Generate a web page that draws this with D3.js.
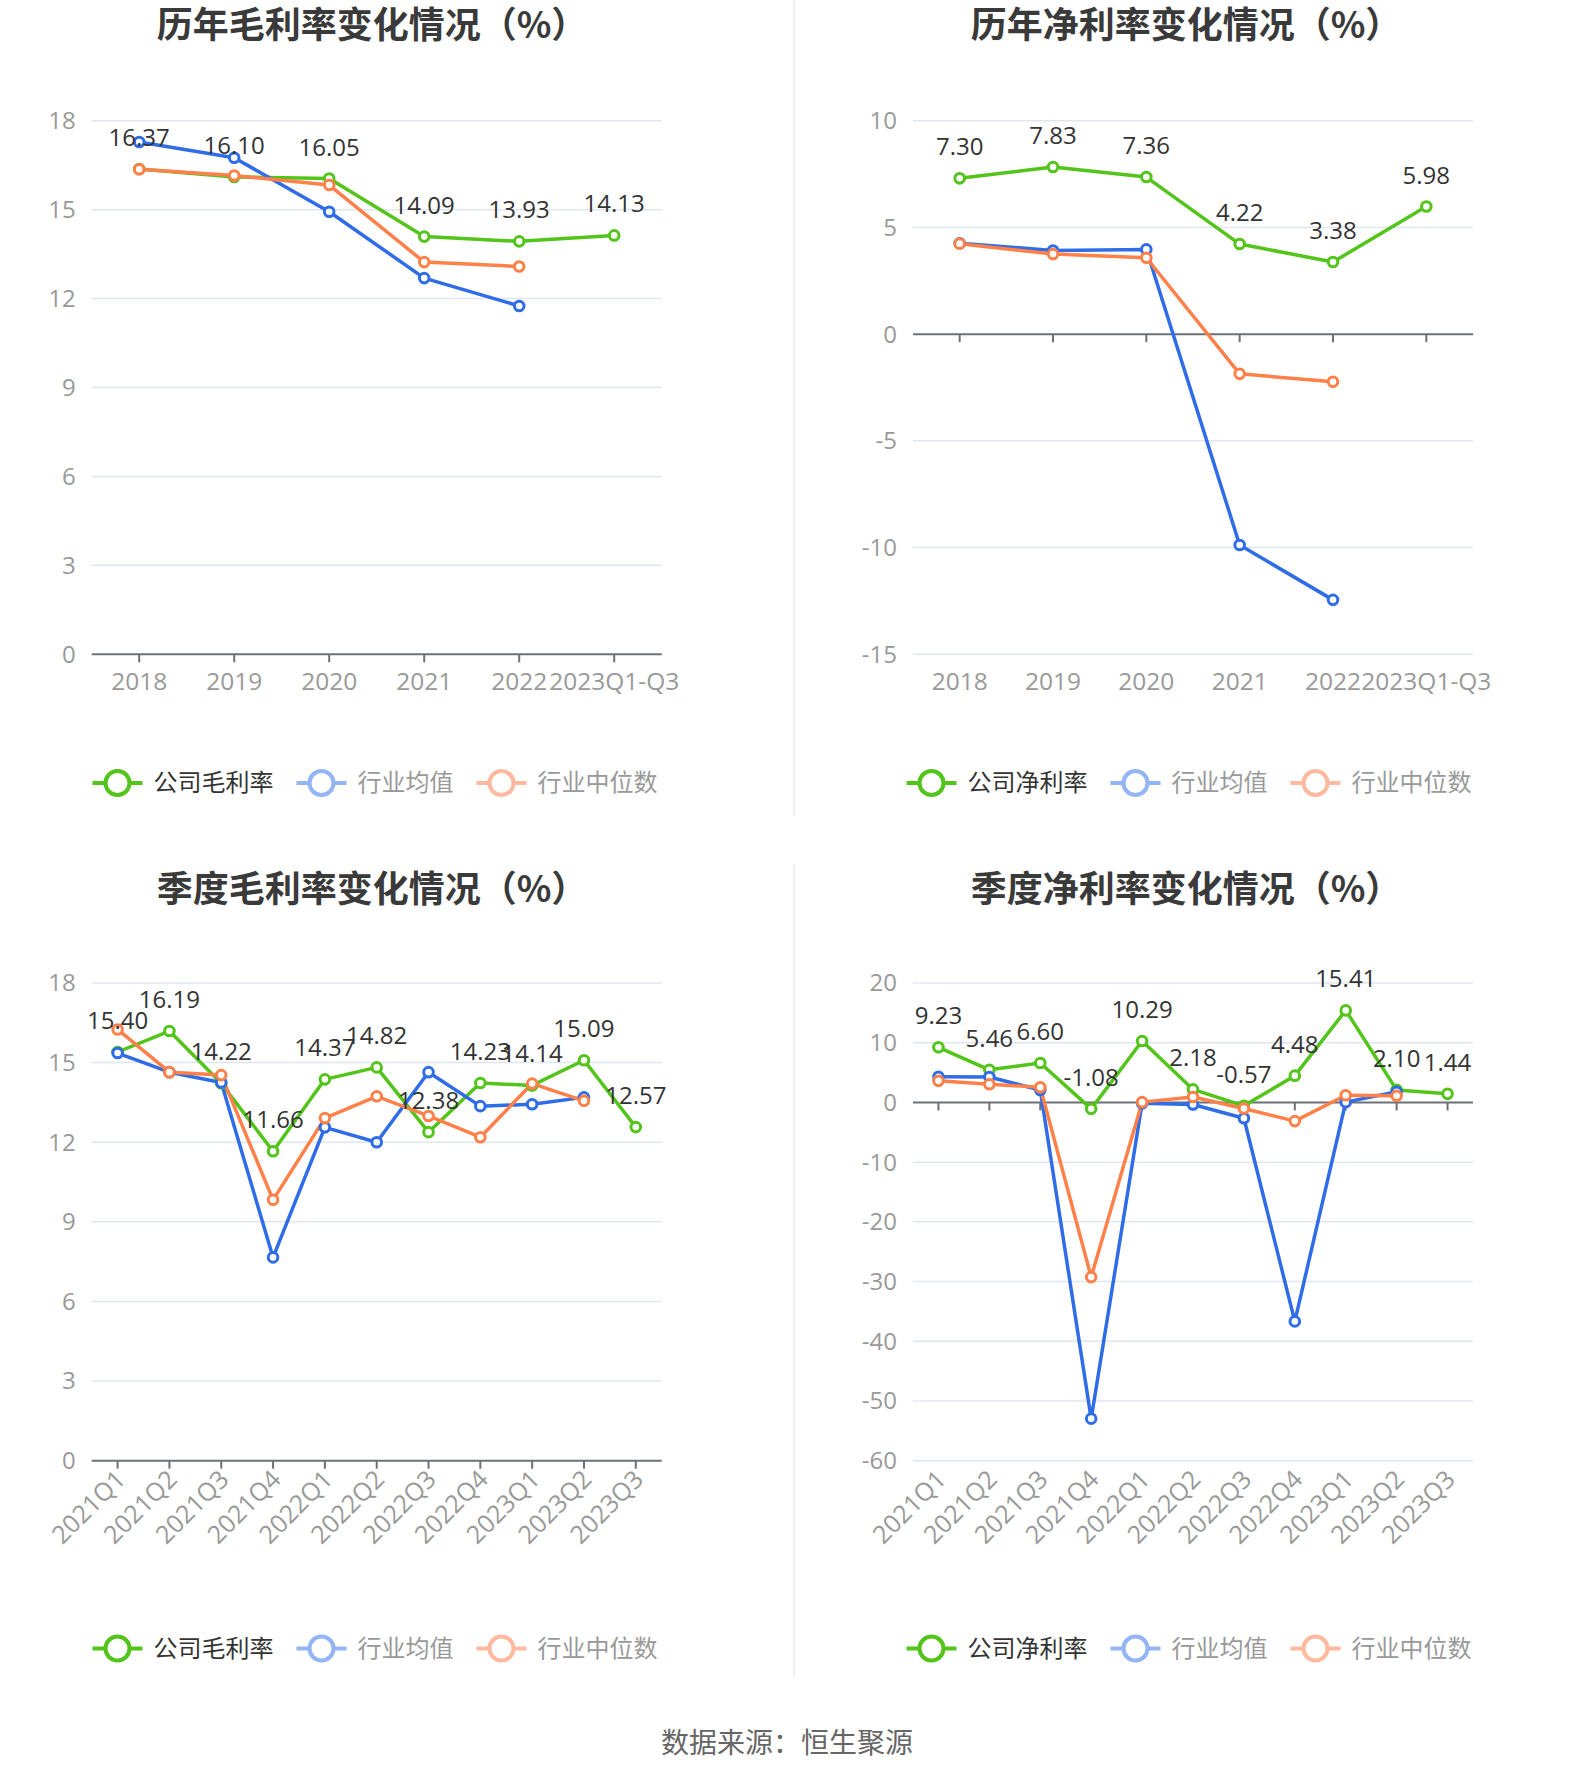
<!DOCTYPE html>
<html><head><meta charset="utf-8">
<script src="https://cdn.jsdelivr.net/npm/d3@7/dist/d3.min.js"></script>
<style>
html,body{margin:0;padding:0;background:#fff;}
svg{display:block;}
</style></head>
<body>
<svg id="c" width="1574" height="1782"></svg>
<script>
// ---------- data ----------
const yearCats = ["2018","2019","2020","2021","2022","2023Q1-Q3"];
const quarterCats = ["2021Q1","2021Q2","2021Q3","2021Q4","2022Q1","2022Q2","2022Q3","2022Q4","2023Q1","2023Q2","2023Q3"];

const yearGross = [16.37,16.10,16.05,14.09,13.93,14.13];
const yearGrossAvg = [17.28,16.75,14.93,12.69,11.75];
const yearGrossMed = [16.36,16.15,15.83,13.23,13.08];

const yearNet = [7.30,7.83,7.36,4.22,3.38,5.98];
const yearNetAvg = [4.26,3.92,3.97,-9.88,-12.45];
const yearNetMed = [4.24,3.75,3.58,-1.86,-2.23];

const qGross = [15.40,16.19,14.22,11.66,14.37,14.82,12.38,14.23,14.14,15.09,12.57];
const qGrossAvg = [15.36,14.64,14.25,7.66,12.56,12.00,14.64,13.36,13.43,13.69];
const qGrossMed = [16.25,14.64,14.53,9.83,12.91,13.73,12.99,12.19,14.21,13.56];

const qNet = [9.23,5.46,6.60,-1.08,10.29,2.18,-0.57,4.48,15.41,2.10,1.44];
const qNetAvg = [4.29,4.25,2.07,-52.96,-0.14,-0.34,-2.65,-36.67,0.05,1.78];
const qNetMed = [3.61,3.04,2.55,-29.25,0.05,0.92,-1.01,-3.13,1.20,1.10];

const grossTicks = [0,3,6,9,12,15,18];
const yearNetTicks = [-15,-10,-5,0,5,10];
const qNetTicks = [-60,-50,-40,-30,-20,-10,0,10,20];

const titles = ["历年毛利率变化情况（%）","历年净利率变化情况（%）","季度毛利率变化情况（%）","季度净利率变化情况（%）"];
const legendGross = ["公司毛利率","行业均值","行业中位数"];
const legendNet = ["公司净利率","行业均值","行业中位数"];
const sourceText = "数据来源：恒生聚源";

// ---------- style ----------
const GREEN = "#52c41a", BLUE = "#2f6ce8", ORANGE = "#ff8049";
const LEG_COLORS = ["#52c41a","#93b4f5","#ffb99f"];
const LEG_TEXT = ["#333","#999","#999"];
const NUMFONT = "'Open Sans','Noto Sans CJK SC',sans-serif";
const CJK = "'Noto Sans CJK SC','Open Sans',sans-serif";

const svg = d3.select("#c");

// dividers
svg.append("line").attr("x1",794).attr("x2",794).attr("y1",0).attr("y2",816).attr("stroke","#eeeeee").attr("stroke-width",2);
svg.append("line").attr("x1",794).attr("x2",794).attr("y1",864).attr("y2",1677).attr("stroke","#eeeeee").attr("stroke-width",2);

const panels = [
  {x0:91.7,x1:661.7,y0:120.7,y1:654.3,cx:372,titleY:25,legY:783,cats:yearCats,domain:[0,18],ticks:grossTicks,
   series:[yearGross,yearGrossAvg,yearGrossMed],legend:legendGross,title:titles[0],rot:false},
  {x0:913,x1:1473,y0:120.7,y1:654.3,cx:1186,titleY:25,legY:783,cats:yearCats,domain:[-15,10],ticks:yearNetTicks,
   series:[yearNet,yearNetAvg,yearNetMed],legend:legendNet,title:titles[1],rot:false},
  {x0:91.7,x1:661.7,y0:983,y1:1460.7,cx:372,titleY:889,legY:1648.5,cats:quarterCats,domain:[0,18],ticks:grossTicks,
   series:[qGross,qGrossAvg,qGrossMed],legend:legendGross,title:titles[2],rot:true},
  {x0:913,x1:1473,y0:983,y1:1460.7,cx:1186,titleY:889,legY:1648.5,cats:quarterCats,domain:[-60,20],ticks:qNetTicks,
   series:[qNet,qNetAvg,qNetMed],legend:legendNet,title:titles[3],rot:true}
];

panels.forEach(p=>{
  const g = svg.append("g");
  const x = d3.scaleBand().domain(p.cats).range([p.x0,p.x1]);
  const y = d3.scaleLinear().domain(p.domain).range([p.y1,p.y0]);
  const cxOf = c => x(c)+x.bandwidth()/2;

  // title
  g.append("text").attr("x",p.cx).attr("y",p.titleY).attr("dy","0.36em")
    .attr("text-anchor","middle").attr("font-family",CJK).attr("font-weight","bold")
    .attr("font-size",36).attr("fill","#3a3a3a").text(p.title);

  // grid + y labels
  p.ticks.forEach(t=>{
    if(t!==0){
      g.append("line").attr("x1",p.x0).attr("x2",p.x1).attr("y1",y(t)).attr("y2",y(t))
        .attr("stroke","#e0e6f1").attr("stroke-width",1.5);
    }
    g.append("text").attr("x",p.x0-16).attr("y",y(t)).attr("dy","0.35em").attr("text-anchor","end")
      .attr("font-family",NUMFONT).attr("font-size",24).attr("fill","#999").text(t);
  });
  // x axis at zero
  const ay = y(0);
  g.append("line").attr("x1",p.x0).attr("x2",p.x1).attr("y1",ay).attr("y2",ay)
    .attr("stroke","#6e7079").attr("stroke-width",2);
  p.cats.forEach(c=>{
    g.append("line").attr("x1",cxOf(c)).attr("x2",cxOf(c)).attr("y1",ay).attr("y2",ay+8)
      .attr("stroke","#6e7079").attr("stroke-width",2);
  });
  // x labels
  const labY = p.y1;
  p.cats.forEach(c=>{
    if(p.rot){
      g.append("text").attr("transform",`translate(${cxOf(c)+3},${labY+14}) rotate(-45)`)
        .attr("text-anchor","end").attr("dy","0.35em")
        .attr("font-family",NUMFONT).attr("font-size",25).attr("fill","#999").text(c);
    } else {
      g.append("text").attr("x",cxOf(c)).attr("y",labY+27).attr("dy","0.35em").attr("text-anchor","middle")
        .attr("font-family",NUMFONT).attr("font-size",24.5).attr("fill","#999").text(c);
    }
  });

  const colors=[GREEN,BLUE,ORANGE];
  const line = d3.line().x((d,i)=>cxOf(p.cats[i])).y(d=>y(d));
  [0,1,2].forEach(k=>{
    g.append("path").datum(p.series[k]).attr("d",line).attr("fill","none")
      .attr("stroke",colors[k]).attr("stroke-width",3.5).attr("stroke-linejoin","round");
  });
  [0,1,2].forEach(k=>{
    g.selectAll(null).data(p.series[k]).enter().append("circle")
      .attr("cx",(d,i)=>cxOf(p.cats[i])).attr("cy",d=>y(d)).attr("r",4.8)
      .attr("fill","#fff").attr("stroke",colors[k]).attr("stroke-width",3);
  });
  // labels for company series
  g.selectAll(null).data(p.series[0]).enter().append("text")
    .attr("x",(d,i)=>cxOf(p.cats[i])).attr("y",d=>y(d)-23)
    .attr("text-anchor","middle").attr("font-family",NUMFONT).attr("font-size",24).attr("fill","#333")
    .text(d=>d.toFixed(2));

  // legend
  const lg = svg.append("g");
  const items = p.legend.map((t,i)=>{
    const it = lg.append("g");
    it.append("line").attr("x1",0).attr("x2",50).attr("y1",0).attr("y2",0).attr("stroke",LEG_COLORS[i]).attr("stroke-width",4);
    it.append("circle").attr("cx",25).attr("cy",0).attr("r",12).attr("fill","#fff").attr("stroke",LEG_COLORS[i]).attr("stroke-width",4);
    const tx = it.append("text").attr("x",61).attr("y",0).attr("dy","0.35em").attr("font-family",CJK)
      .attr("font-size",24).attr("fill",LEG_TEXT[i]).text(t);
    const w = 61 + tx.node().getComputedTextLength();
    return {it,w};
  });
  const gap = 23;
  const total = items.reduce((s,o)=>s+o.w,0)+gap*(items.length-1);
  let cur = p.cx + 3 - total/2;
  items.forEach(o=>{ o.it.attr("transform",`translate(${cur},${p.legY})`); cur += o.w+gap; });
});

svg.append("text").attr("x",787).attr("y",1743).attr("dy","0.35em").attr("text-anchor","middle")
  .attr("font-family",CJK).attr("font-size",28).attr("fill","#666").text(sourceText);
</script>
</body></html>
